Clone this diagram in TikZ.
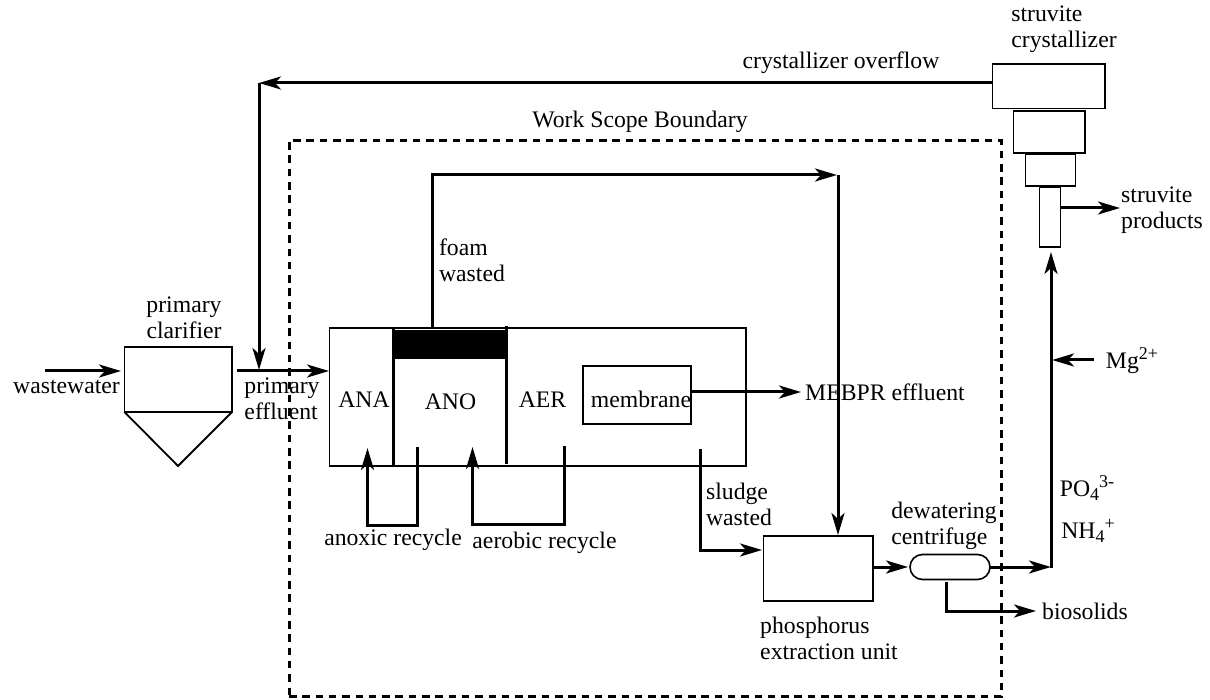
\documentclass[tikz,border=0pt]{standalone}
\usepackage{fontspec}
\setmainfont{Liberation Serif}
\usetikzlibrary{arrows.meta,calc,shapes.misc}
\tikzset{
 x=1pt,y=-1pt,
 box/.style={draw=black,line width=1.6pt,fill=white,inner sep=0,outer sep=0,rectangle},
 flow/.style={draw=black,line width=3pt,-{Stealth[length=22pt,width=13pt,inset=6pt]}},
 wall/.style={draw=black,line width=3pt},
 lbl/.style={inner sep=0,outer sep=0,font=\fontsize{23.7}{26}\selectfont,align=left,text=black},
 lblc/.style={lbl,align=center},
}
\newcommand{\bx}[5]{\node[box,minimum width={#4-#2},minimum height={#5-#3}] (#1) at ({(#2+#4)/2},{(#3+#5)/2}) {};}
\newcommand{\supx}[1]{\raisebox{9pt}{\fontsize{18}{18}\selectfont #1}}
\newcommand{\subx}[1]{\raisebox{-4pt}{\fontsize{18}{18}\selectfont #1}}
\begin{document}
\begin{tikzpicture}
\useasboundingbox (0,0) rectangle (1210,700);
% boundary
\node[draw=black,line width=3pt,dash pattern=on 7.5pt off 5.8pt,inner sep=0,outer sep=0,minimum width=712,minimum height=556] (scope) at (645,418.5) {};
% clarifier
\bx{clar}{124.5}{347}{232}{412}
\coordinate (clarT) at (178,466);
\draw[line width=1.8pt,line join=miter] (clar.south west) -- (clarT) -- (clar.south east);
% tank
\bx{tank}{329.5}{328}{746}{466}
\node[draw=black,fill=black,inner sep=0,outer sep=0,minimum width=113,minimum height=28] (foam) at (449.5,344.5) {};
\coordinate (w1t) at (393.5,328); \coordinate (w1b) at (393.5,466);
\coordinate (w2t) at (506.5,326); \coordinate (w2b) at (506.5,463.5);
\draw[wall] (w1t) -- (w1b);
\draw[wall] (w2t) -- (w2b);
\bx{memb}{583}{366}{691}{424}
% crystallizer
\bx{c1}{992.5}{64}{1105}{108.5}
\bx{c2}{1013.5}{111}{1085}{153}
\bx{c3}{1025.5}{154}{1075.5}{186}
\bx{c4}{1039.5}{187}{1060.5}{247}
% phosphorus unit
\bx{peu}{763.5}{536}{873}{601}
% centrifuge
\node[draw=black,line width=1.6pt,fill=white,rounded rectangle,inner sep=0,outer sep=0,minimum width=80,minimum height=25] (cent) at (950,567) {};
% free ends
\coordinate (wwS) at (45,371);
\coordinate (wwE) at (121,371);
\coordinate (peS) at (237,371);
\coordinate (peE) at (329,371);
\coordinate (ovS) at (992,83);
\coordinate (ovC) at (259,83);
\coordinate (ovE) at (259,370);
\coordinate (fS) at (432,328);
\coordinate (fC) at (432,175);
\coordinate (fE) at (837,175);
\coordinate (fD) at (838,175);
\coordinate (fDE) at (838,535);
\coordinate (mS) at (691,392);
\coordinate (mE) at (801,392);
\coordinate (aS) at (417,447);
\coordinate (aC1) at (417,525);
\coordinate (aC2) at (367.5,525);
\coordinate (aE) at (367.5,448);
\coordinate (bS) at (564.5,446);
\coordinate (bC1) at (564.5,524.5);
\coordinate (bC2) at (472.5,524.5);
\coordinate (bE) at (472.5,447);
\coordinate (sS) at (700.5,449);
\coordinate (sC) at (700.5,550);
\coordinate (sE) at (762,550);
\coordinate (pcS) at (873,567);
\coordinate (pcE) at (908,567);
\coordinate (coS) at (990,567);
\coordinate (coE) at (1051,567);
\coordinate (vS) at (1051,568);
\coordinate (vE) at (1051,252);
\coordinate (mgS) at (1094,360);
\coordinate (mgE) at (1052,360);
\coordinate (bioS) at (946.5,582);
\coordinate (bioC) at (946.5,611);
\coordinate (bioE) at (1036,611);
\coordinate (spS) at (1061,208);
\coordinate (spE) at (1120,208);
% connectors
\draw[flow] (wwS) -- (wwE);
\draw[flow] (peS) -- (peE);
\draw[flow,line join=miter] (ovS) -- (ovC);
\draw[flow] (ovC) -- (ovE);
\draw[flow,line join=miter] (fS) -- (fC) -- (fE);
\draw[flow] (fD) -- (fDE);
\draw[flow] (mS) -- (mE);
\draw[flow,line join=miter] (aS) -- (aC1) -- (aC2) -- (aE);
\draw[flow,line join=miter] (bS) -- (bC1) -- (bC2) -- (bE);
\draw[flow,line join=miter] (sS) -- (sC) -- (sE);
\draw[flow] (pcS) -- (pcE);
\draw[flow] (coS) -- (coE);
\draw[flow] (vS) -- (vE);
\draw[flow] (mgS) -- (mgE);
\draw[flow,line join=miter] (bioS) -- (bioC) -- (bioE);
\draw[flow] (spS) -- (spE);
% labels
\node[lbl] (t1) at (66.5,387) {wastewater};
\node[lblc] (t2) at (184,318) {primary\\clarifier};
\node[lbl] (t3) at (282,399) {primary\\effluent};
\node[lbl] (t4) at (364,400) {ANA};
\node[lbl] (t5) at (450.5,402) {ANO};
\node[lbl] (t6) at (542.5,400) {AER};
\node[lbl] (t7) at (641,399) {membrane};
\node[lbl] (t8) at (885,392) {MEBPR effluent};
\node[lbl] (t9) at (472,260) {foam\\wasted};
\node[lbl] (t10) at (640,122) {Work Scope Boundary};
\node[lbl] (t11) at (841,63) {crystallizer overflow};
\node[lbl] (t12) at (1064,29) {struvite\\crystallizer};
\node[lbl] (t13) at (1162,210) {struvite\\products};
\node[lbl] (t14) at (1132,361) {Mg\supx{2+}};
\node[lbl] (t15) at (1087,488) {PO\subx{4}\supx{3-}};
\node[lbl] (t16) at (1088,531) {NH\subx{4}\supx{+}};
\node[lbl] (t17) at (739,504) {sludge\\wasted};
\node[lbl] (t18) at (393,540) {anoxic recycle};
\node[lbl] (t19) at (544.5,543) {aerobic recycle};
\node[lbl] (t20) at (944,526) {dewatering\\centrifuge};
\node[lbl] (t21) at (829,638) {phosphorus\\extraction unit};
\node[lbl] (t22) at (1085,611) {biosolids};
\end{tikzpicture}
\end{document}
